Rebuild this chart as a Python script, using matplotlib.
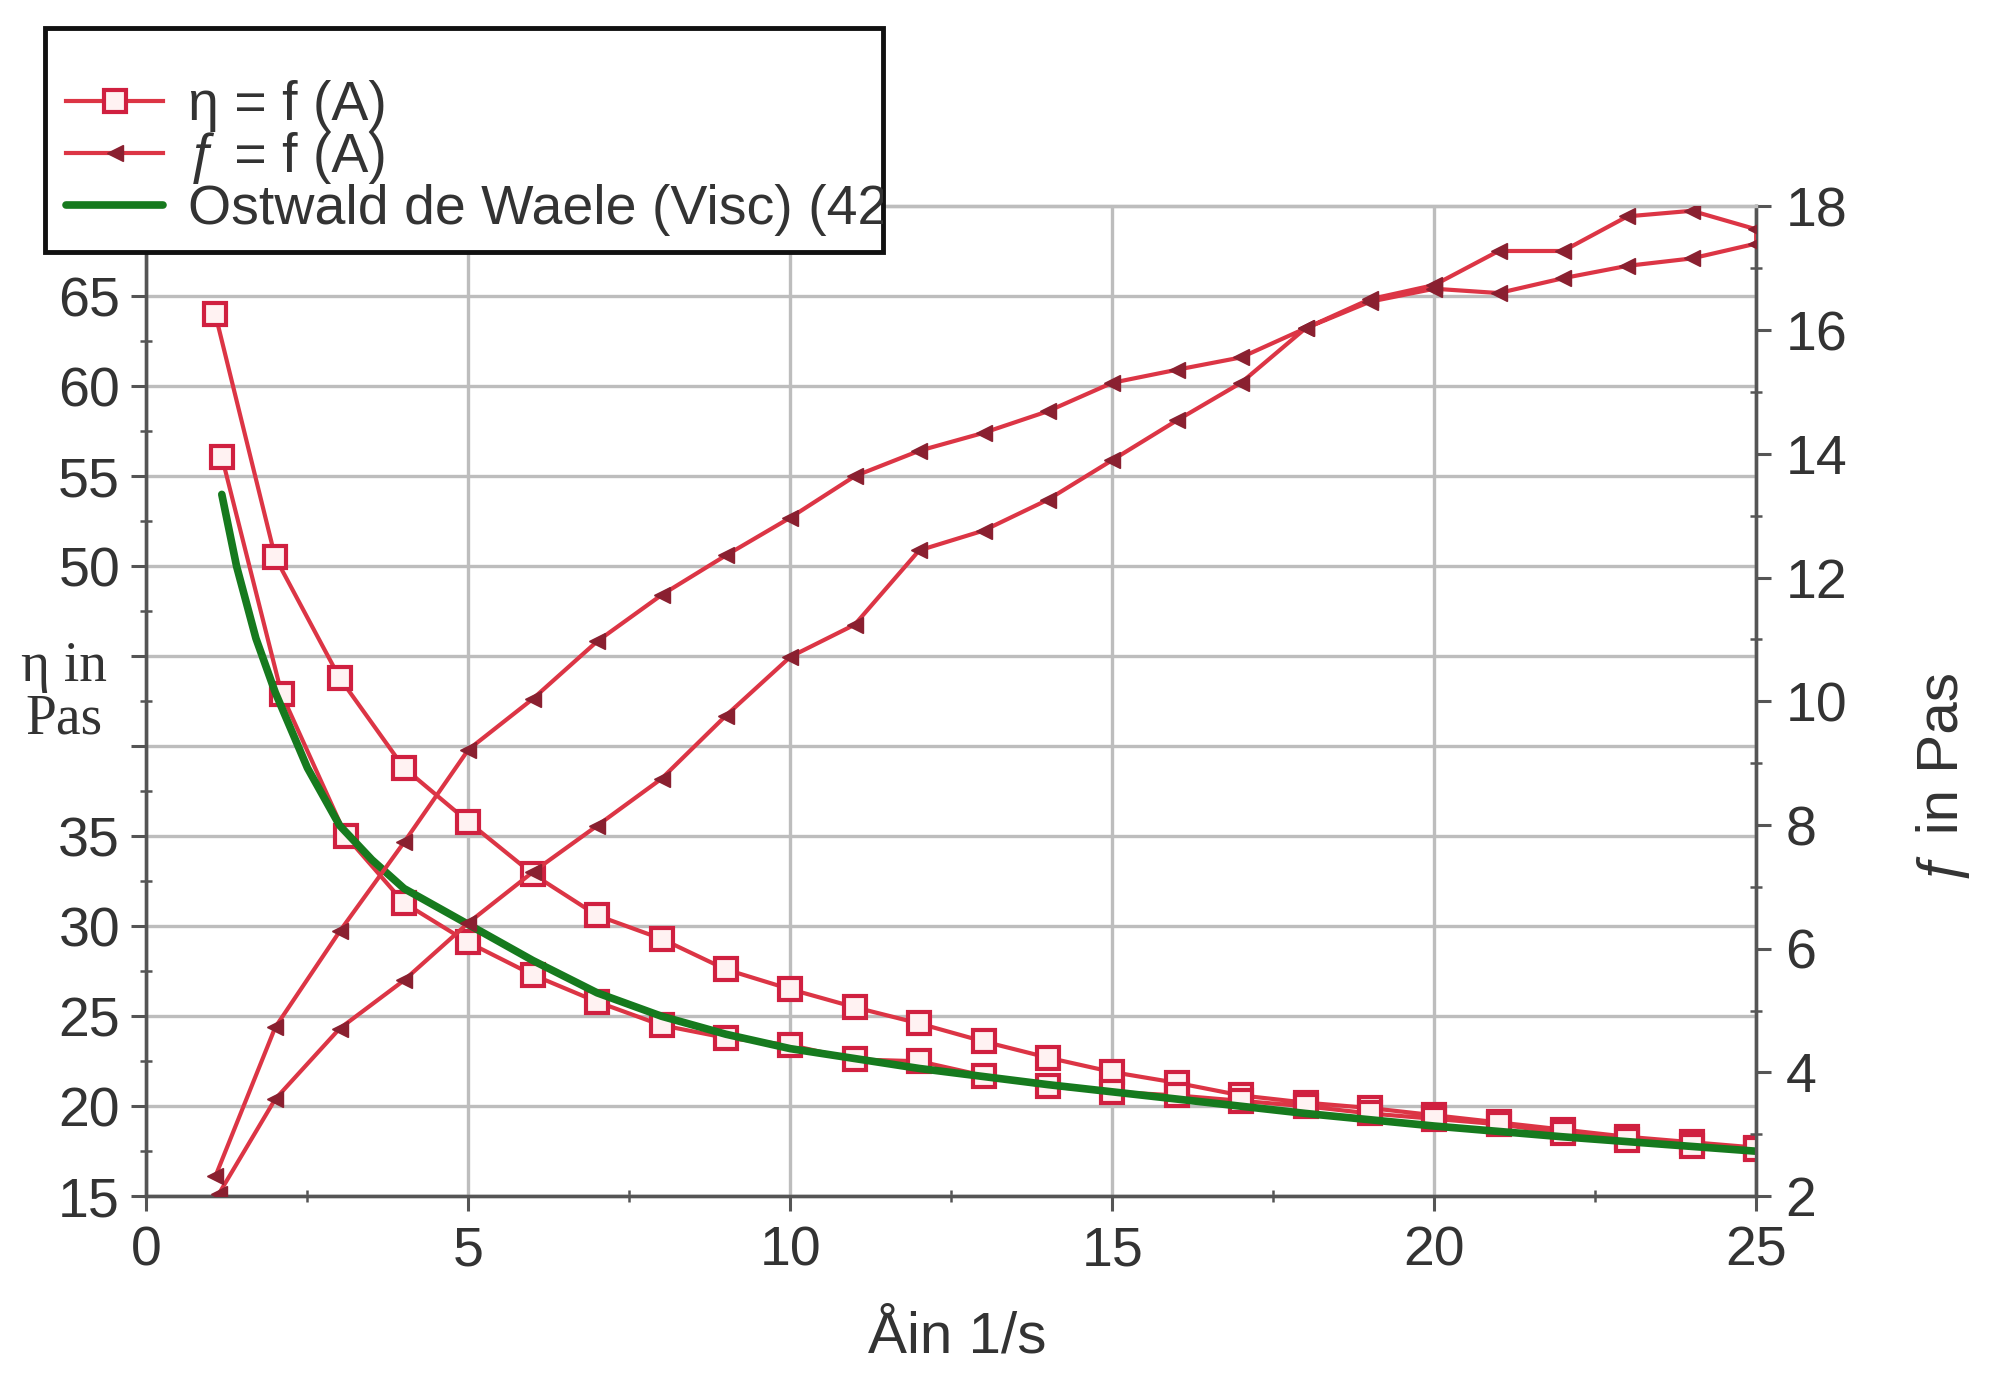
import matplotlib
matplotlib.use("Agg")
import matplotlib.pyplot as plt
from matplotlib.patches import Rectangle
from matplotlib.ticker import MultipleLocator, FixedLocator

# ---- data ----
# viscosity eta (left axis): up-sweep then down-sweep
eta_x_up = [1.07, 2, 3, 4, 5, 6, 7, 8, 9, 10, 11, 12, 13, 14, 15, 16, 17, 18, 19, 20, 21, 22, 23, 24, 25]
eta_up = [64.0, 50.5, 43.8, 38.8, 35.8, 32.9, 30.6, 29.3, 27.6, 26.5, 25.5, 24.6, 23.6, 22.7, 21.9, 21.3,
          20.6, 20.2, 19.9, 19.5, 19.1, 18.7, 18.3, 18.0, 17.7]
eta_x_down = [25, 24, 23, 22, 21, 20, 19, 18, 17, 16, 15, 14, 13, 12, 11, 10, 9, 8, 7, 6, 5, 4, 3.1, 2.1, 1.17]
eta_down = [17.6, 17.8, 18.1, 18.5, 19.0, 19.3, 19.6, 20.0, 20.3, 20.6, 20.8, 21.1, 21.7, 22.5, 22.6,
            23.4, 23.8, 24.5, 25.8, 27.3, 29.1, 31.3, 35.0, 42.9, 56.1]

# shear stress f (right axis)
f_x_up = [1.07, 2, 3, 4, 5, 6, 7, 8, 9, 10, 11, 12, 13, 14, 15, 16, 17, 18, 19, 20, 21, 22, 23, 24, 25]
f_up = [2.32, 4.73, 6.28, 7.72, 9.22, 10.04, 10.97, 11.72, 12.36, 12.97, 13.64, 14.05, 14.34, 14.69, 15.15,
        15.36, 15.56, 16.03, 16.46, 16.67, 16.60, 16.84, 17.04, 17.16, 17.40]
f_x_down = [25, 24, 23, 22, 21, 20, 19, 18, 17, 16, 15, 14, 13, 12, 11, 10, 9, 8, 7, 6, 5, 4, 3, 2, 1.12]
f_down = [17.63, 17.93, 17.84, 17.28, 17.28, 16.73, 16.50, 16.03, 15.15, 14.54, 13.90, 13.26, 12.76, 12.44,
          11.24, 10.72, 9.77, 8.75, 7.99, 7.24, 6.42, 5.49, 4.71, 3.57, 2.03]

# Ostwald de Waele fit curve (left axis)
fit_x = [1.17, 1.4, 1.7, 2, 2.5, 3, 3.5, 4, 5, 6, 7, 8, 9, 10, 12, 14, 16, 18, 20, 22, 25]
fit_y = [54.0, 50.0, 46.0, 43.0, 38.8, 35.6, 33.7, 32.1, 30.1, 28.1, 26.3, 25.0, 24.0, 23.2, 22.1, 21.2,
         20.4, 19.6, 18.9, 18.3, 17.5]

x_ticks = [0, 5, 10, 15, 20, 25]
left_ticks = [15, 20, 25, 30, 35, 40, 45, 50, 55, 60, 65]
left_labels = ["15", "20", "25", "30", "35", "", "", "50", "55", "60", "65"]
right_ticks = [2, 4, 6, 8, 10, 12, 14, 16, 18]

labels = ["\u03b7 = f (A)", "\u0192 = f (A)", "Ostwald de Waele (Visc) (42"]

# ---- figure ----
plt.rcParams['font.family'] = ['Liberation Sans', 'DejaVu Sans']
fig = plt.figure(figsize=(19.98, 13.95), dpi=100)
ax = fig.add_axes([0.0733, 0.1425, 0.8057, 0.7095])
ax2 = ax.twinx()

red = '#dc3545'
dark = '#8a2030'
green = '#167a1e'

eta_x = eta_x_up + eta_x_down
eta_all = eta_up + eta_down
f_x = f_x_up + f_x_down
f_all = f_up + f_down

l1, = ax.plot(eta_x, eta_all, color=red, lw=3.0, marker='s', ms=16, mfc='#fff2f2', mec='#d02040',
              mew=3.0, zorder=3)
l3, = ax.plot(fit_x, fit_y, color=green, lw=5.5, zorder=5, solid_capstyle='round', solid_joinstyle='round')
l2, = ax2.plot(f_x, f_all, color=red, lw=3.0, marker='<', ms=12, mfc=dark, mec=dark, zorder=3)

ax.set_xlim(0, 25)
ax.set_ylim(15, 70)
ax2.set_ylim(2, 18)

ax.xaxis.set_major_locator(FixedLocator(x_ticks))
ax.xaxis.set_minor_locator(MultipleLocator(2.5))
ax.yaxis.set_major_locator(FixedLocator(left_ticks))
ax.set_yticklabels(left_labels)
ax.yaxis.set_minor_locator(MultipleLocator(2.5))
ax2.yaxis.set_major_locator(FixedLocator(right_ticks))
ax2.yaxis.set_minor_locator(MultipleLocator(1))

tick_col = '#555555'
for a in (ax, ax2):
    a.tick_params(which='major', direction='out', length=11, width=2.2, color=tick_col,
                  labelsize=40, labelcolor='#333333')
    a.tick_params(which='minor', direction='inout', length=9, width=1.8, color=tick_col)
ax.tick_params(axis='y', pad=8)
ax.tick_params(axis='x', pad=10)
ax2.tick_params(axis='y', pad=10)

ax.grid(True, which='major', color='#bdbdbd', lw=2.4)
ax.set_axisbelow(True)
ax2.grid(False)

for a in (ax, ax2):
    a.spines['top'].set_color('#bdbdbd')
    a.spines['top'].set_linewidth(2.4)
    for s in ('left', 'bottom', 'right'):
        a.spines[s].set_color('#555555')
        a.spines[s].set_linewidth(2.4)

# axis labels
fig.text(0.032, 0.503, "\u03b7 in\nPas", family=['Liberation Serif', 'DejaVu Serif'], fontsize=40,
         ha='center', va='center', color='#333333', linespacing=1.0)
fig.text(0.479, 0.041, "\u00c5in 1/s", fontsize=42, ha='center', va='center', color='#333333')
fig.text(0.9726, 0.443, "\u0192 in Pas", fontsize=42, ha='center', va='center', rotation=90,
         color='#333333')

# legend box (frame drawn separately so that the long label is cut at the edge)
box = Rectangle((35 / 1568, 1 - 198 / 1095), (693 - 35) / 1568, (198 - 22) / 1095,
                transform=fig.transFigure, facecolor='white', edgecolor='#111111', lw=3.5, zorder=4)
fig.add_artist(box)

leg = fig.legend([l1, l2, l3], labels, loc='upper left', bbox_to_anchor=(52 / 1568, 1 - 63 / 1095),
                 fontsize=40, frameon=False, borderpad=0.0, labelspacing=0.0, handlelength=1.75,
                 handletextpad=0.45, borderaxespad=0.0)
leg.set_zorder(6)
for t in leg.get_texts():
    t.set_color('#333333')
    t.set_clip_path(box)

fig.savefig("out.png", dpi=100, facecolor='white')
